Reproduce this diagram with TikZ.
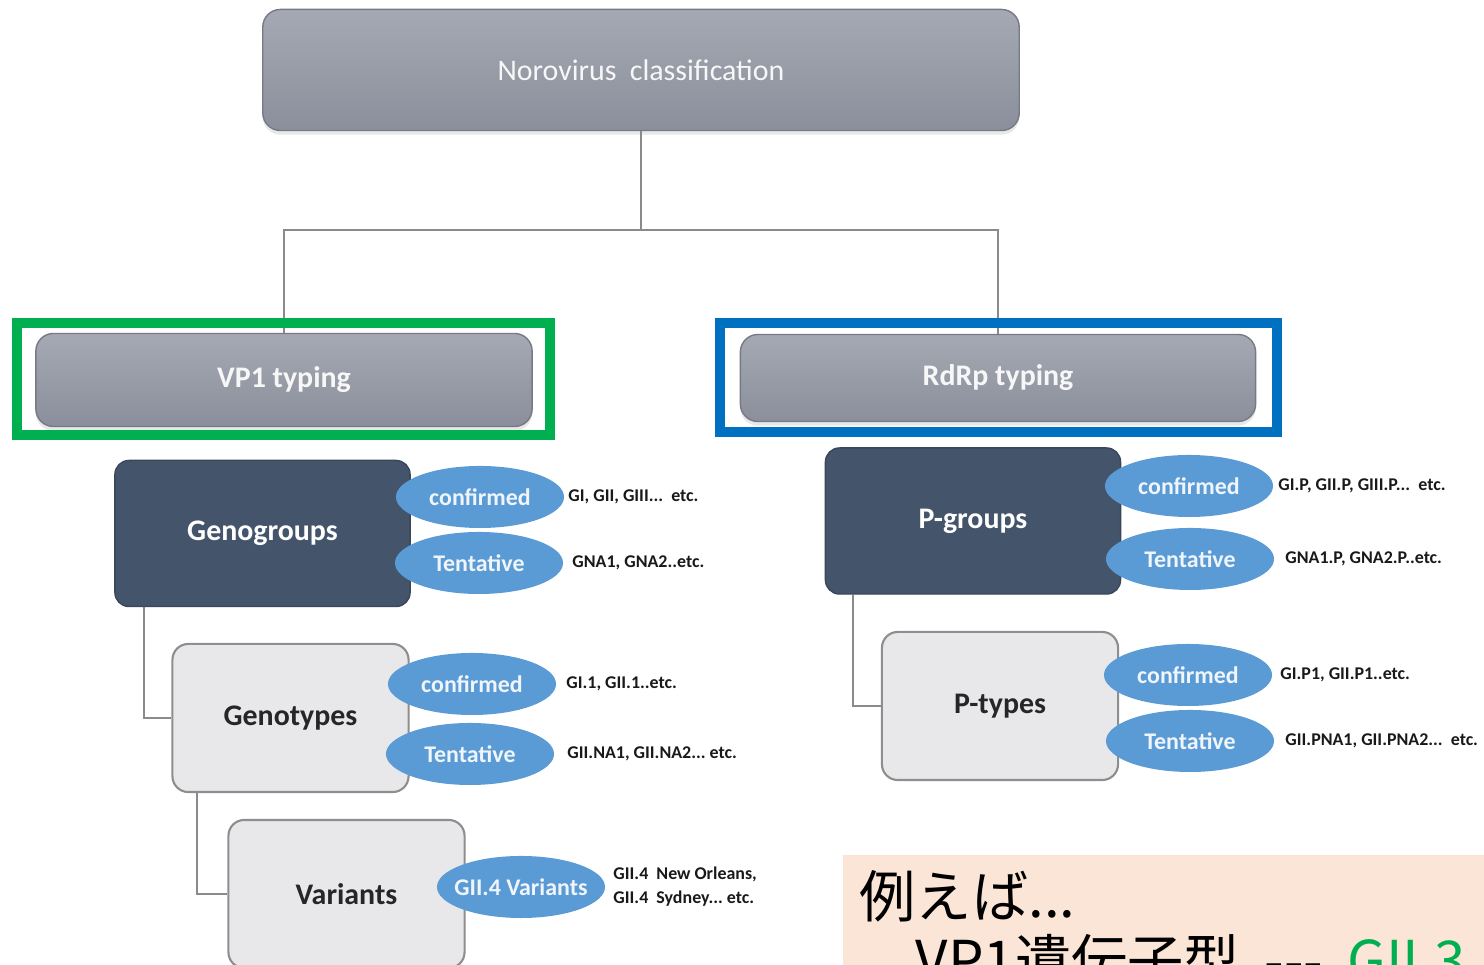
\documentclass[tikz,border=0pt]{standalone}
\usepackage{fontspec}
\setmainfont{Carlito}
\newfontfamily\jpfont{Noto Sans CJK JP}
\usepackage{xcolor}
\usepackage{tikz}
\usetikzlibrary{shapes.geometric, positioning, shadows}
\definecolor{slatecol}{HTML}{44546A}
\definecolor{boxgray}{HTML}{E8E8EA}
\definecolor{edgegray}{HTML}{8E8E8E}
\definecolor{ovalblue}{HTML}{5B9BD5}
\definecolor{topshade}{HTML}{A5A9B3}
\definecolor{botshade}{HTML}{8B8F9B}
\definecolor{linkgray}{HTML}{8A8A8A}
\definecolor{vpgreen}{HTML}{00B050}
\definecolor{rdblue}{HTML}{0070C0}
\definecolor{memocol}{HTML}{FBE5D6}

\begin{document}
\begin{tikzpicture}[x=0.01cm, y=-0.01cm,
  head/.style={rectangle, rounded corners=5pt, draw=botshade!85!black,
               top color=topshade, bottom color=botshade, text=white!94!gray,
               drop shadow={opacity=0.18, shadow xshift=0pt, shadow yshift=-1.2pt},
               font=\bfseries\fontsize{8.5}{10}\selectfont},
  darkbox/.style={rectangle, rounded corners=4pt, draw=slatecol!85!black, fill=slatecol,
                  text=white, minimum width=2.95cm, minimum height=1.46cm,
                  font=\bfseries\fontsize{8.5}{10}\selectfont},
  lightbox/.style={rectangle, rounded corners=4.5pt, draw=edgegray, line width=0.6pt,
                   fill=boxgray, text=black!85, minimum width=2.36cm, minimum height=1.48cm,
                   font=\bfseries\fontsize{8.5}{10}\selectfont},
  oval/.style={ellipse, fill=ovalblue, inner sep=0pt, minimum width=1.68cm,
               minimum height=0.62cm, text=white!90!ovalblue,
               font=\bfseries\fontsize{6.8}{8}\selectfont},
  note/.style={inner sep=0pt, align=left, text=black!90,
               font=\bfseries\fontsize{5.1}{6.8}\selectfont},
  link/.style={draw=linkgray, line width=0.6pt},
  frame/.style={rectangle, draw=#1, line width=2.85pt, inner sep=0pt},
  memo/.style={rectangle, fill=memocol, align=left, text width=6.6cm,
               inner xsep=0.17cm, inner ysep=0.16cm,
               font=\jpfont\fontsize{16}{18}\selectfont},
]
  \useasboundingbox (0,0) rectangle (1484,965);
  \clip (0,0) rectangle (1484,965);

  \node[head, minimum width=7.56cm, minimum height=1.21cm,
        font=\fontsize{8.5}{10}\selectfont] (root) at (641,70) {Norovirus\ \ classification};
  \node[head, minimum width=4.96cm, minimum height=0.93cm] (vp1) at (284,380) {VP1 typing};
  \node[head, minimum width=5.15cm, minimum height=0.87cm] (rdrp) at (998,378) {RdRp typing};

  \node[darkbox] (gg) at (262.5,533.5) {Genogroups};
  \node[darkbox] (pg) at (973,521) {P-groups};
  \node[lightbox] (gt) at (290.5,718) {Genotypes};
  \node[lightbox] (pt) at (1000,706) {P-types};
  \node[lightbox] (var) at (346.5,894) {Variants};

  \coordinate (split) at (641,230);
  \draw[link] (root.south) -- (split);
  \draw[link] (vp1.north) |- (split) -| (rdrp.north);
  \draw[link] ([xshift=0.3cm]gg.south west) |- (gt.west);
  \draw[link] ([xshift=0.26cm]gt.south west) |- (var.west);
  \draw[link] ([xshift=0.28cm]pg.south west) |- (pt.west);

  \node[frame=vpgreen, minimum width=5.33cm, minimum height=1.12cm] (vp1frame) at (283.5,379) {};
  \node[frame=rdblue, minimum width=5.57cm, minimum height=1.09cm] (rdrpframe) at (998.5,377.5) {};

  \node[oval] (ggc) at (480,497) {confirmed};
  \node[oval] (ggt) at (479,563) {Tentative};
  \node[oval] (gtc) at (472,684) {confirmed};
  \node[oval] (gtt) at (470,754) {Tentative};
  \node[oval, inner xsep=-3pt] (varo) at (521,887) {GII.4 Variants};
  \node[oval] (pgc) at (1189,486) {confirmed};
  \node[oval] (pgt) at (1190,559) {Tentative};
  \node[oval] (ptc) at (1188,675) {confirmed};
  \node[oval] (ptt) at (1190,741) {Tentative};

  \node[note, right=0.3mm of ggc] (ggcn) {GI, GII, GIII...\ \ etc.};
  \node[note, right=0.8mm of ggt] (ggtn) {GNA1, GNA2..etc.};
  \node[note, right=0.9mm of gtc] (gtcn) {GI.1, GII.1..etc.};
  \node[note, right=1.2mm of gtt] (gttn) {GII.NA1, GII.NA2...\ etc.};
  \node[note, right=0.7mm of varo] (varon) {GII.4\ \ New Orleans,\\GII.4\ \ Sydney...\ etc.};
  \node[note, right=0.4mm of pgc] (pgcn) {GI.P, GII.P, GIII.P...\ \ etc.};
  \node[note, right=1mm of pgt] (pgtn) {GNA1.P, GNA2.P..etc.};
  \node[note, right=0.7mm of ptc] (ptcn) {GI.P1, GII.P1..etc.};
  \node[note, right=1mm of ptt] (pttn) {GII.PNA1, GII.PNA2...\ \ etc.};

  \node[memo, anchor=north west] (memo) at (842,854)
    {例えば...\\\hspace*{1em}VP1遺伝子型\hspace{0.1em} -{}-{}- \hspace{0.1em}\textcolor{vpgreen}{GII.3}};
\end{tikzpicture}
\end{document}
